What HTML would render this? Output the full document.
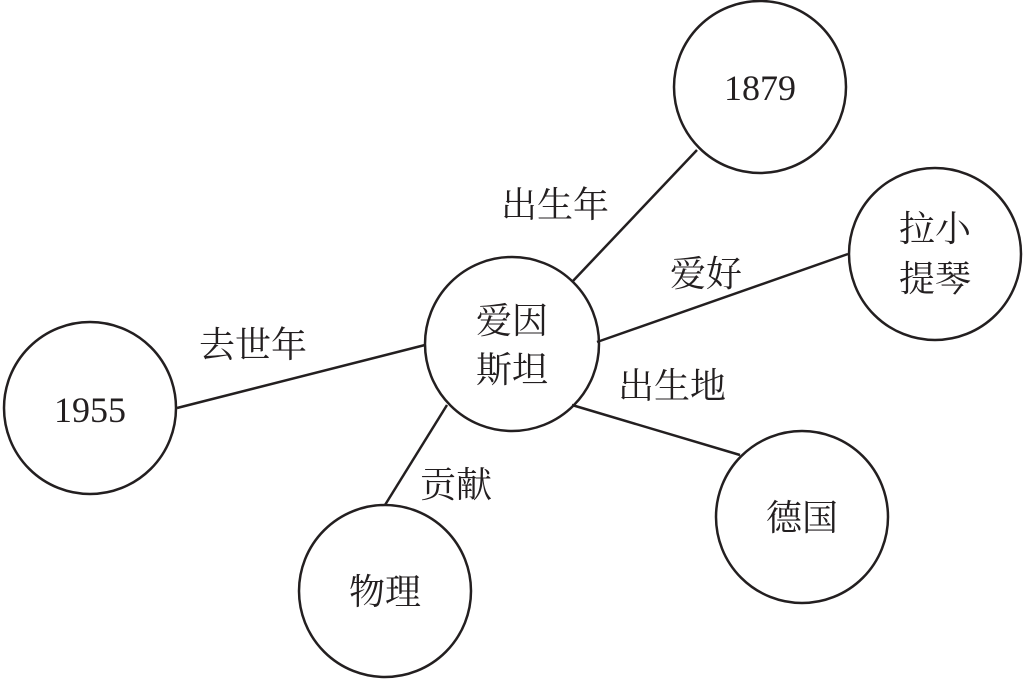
<!DOCTYPE html>
<html><head><meta charset="utf-8"><style>
html,body{margin:0;padding:0;background:#fff;}
text{font-family:"Liberation Serif","Noto Serif CJK SC",serif;font-size:36px;fill:#231f20;}
</style></head><body>
<svg width="1026" height="683" viewBox="0 0 1026 683" xmlns="http://www.w3.org/2000/svg">
<g stroke="#231f20" stroke-width="2.5" fill="none">
<line x1="572" y1="282" x2="697" y2="150"/>
<line x1="597" y1="342" x2="848" y2="254"/>
<line x1="425" y1="345" x2="177" y2="408"/>
<line x1="447" y1="405" x2="385" y2="505"/>
<line x1="572" y1="405" x2="740" y2="455"/>
<circle cx="512" cy="344" r="87"/>
<circle cx="760" cy="87" r="86"/>
<circle cx="935" cy="254" r="86"/>
<circle cx="90" cy="408" r="86"/>
<circle cx="385" cy="591" r="86"/>
<circle cx="802" cy="517" r="86"/>
</g>
<g text-anchor="middle">
<text x="512" y="333">爱因</text>
<text x="512" y="382">斯坦</text>
<text x="760" y="100">1879</text>
<text x="935" y="241">拉小</text>
<text x="935" y="291">提琴</text>
<text x="90" y="422">1955</text>
<text x="385" y="604">物理</text>
<text x="802" y="530">德国</text>
<text x="555" y="217">出生年</text>
<text x="706" y="286">爱好</text>
<text x="253" y="357">去世年</text>
<text x="672" y="398">出生地</text>
<text x="456" y="497">贡献</text>
</g>
</svg>
</body></html>
